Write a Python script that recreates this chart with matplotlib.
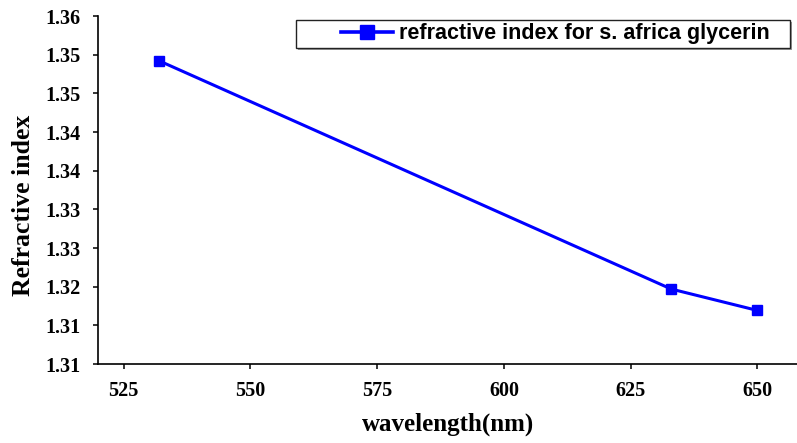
import numpy as np
import matplotlib
matplotlib.use("Agg")
import matplotlib.pyplot as plt
from matplotlib.patches import Rectangle
from matplotlib.ticker import FixedLocator, FixedFormatter


# measured refractive index vs wavelength
wavelength = [532, 633, 650]
refr_index = [1.3533, 1.3192, 1.3160]

x_ticks = [525, 550, 575, 600, 625, 650]
x_long = [550, 600, 650]
y_ticks = np.linspace(1.308, 1.36, 10)
y_tick_labels = ["1.31", "1.31", "1.32", "1.33", "1.33",
                 "1.34", "1.34", "1.35", "1.35", "1.36"]
series_name = "refractive index for s. africa glycerin"

W, H = 797, 443
fig = plt.figure(figsize=(W / 100, H / 100), dpi=100)
ax = fig.add_axes([98.3 / W, 1 - 364 / H, (W - 98.3) / W, 348 / H])

serif = "Liberation Serif"
blue = "#0000FF"

ax.plot(wavelength, refr_index, color=blue, lw=2.2, marker="s", ms=7.5,
        mec=blue, mfc=blue, label=series_name)

ax.set_xlim(520, 657.8)
ax.set_ylim(1.308, 1.36)

ax.xaxis.set_major_locator(FixedLocator(x_ticks))
ax.xaxis.set_minor_locator(FixedLocator(x_long))
ax.yaxis.set_major_locator(FixedLocator(y_ticks))
ax.yaxis.set_minor_locator(FixedLocator(y_ticks[::2]))
ax.yaxis.set_major_formatter(FixedFormatter(y_tick_labels))

ax.tick_params(which="major", direction="out", length=3.5, width=1.1, pad=9)
ax.tick_params(which="minor", direction="out", length=6.5, width=1.1)
for lab in ax.get_xticklabels() + ax.get_yticklabels():
    lab.set_fontfamily(serif)
    lab.set_fontweight("bold")
    lab.set_fontsize(14.5)

for side in ["top", "right"]:
    ax.spines[side].set_visible(False)
for side in ["left", "bottom"]:
    ax.spines[side].set_linewidth(1.2)

ax.set_xlabel("wavelength(nm)", fontfamily=serif, fontweight="bold",
              fontsize=18, labelpad=8)
ax.set_ylabel("Refractive index", fontfamily=serif, fontweight="bold",
              fontsize=18.5)
ax.yaxis.set_label_coords(-0.091, 0.455)

# legend frame with a soft shadow
ax.add_patch(Rectangle((298 / W, 1 - 50 / H), 494 / W, 28 / H,
                       transform=fig.transFigure, facecolor="#9a9a9a",
                       edgecolor="none", clip_on=False, zorder=4))
ax.add_patch(Rectangle((296 / W, 1 - 48 / H), 494 / W, 28 / H,
                       transform=fig.transFigure, facecolor="white",
                       edgecolor="#222222", lw=1.0, clip_on=False, zorder=4.5))

leg = ax.legend(loc="center left", bbox_to_anchor=(341 / W, 1 - 34 / H),
                bbox_transform=fig.transFigure, frameon=False,
                prop={"family": "Liberation Sans", "weight": "bold",
                      "size": 15.5},
                handlelength=2.4, handletextpad=0.28, borderpad=0,
                borderaxespad=0, markerscale=1.3)
leg.set_zorder(5)
for h in leg.get_lines():
    h.set_linewidth(2.6)

fig.savefig("out.png", dpi=100)
